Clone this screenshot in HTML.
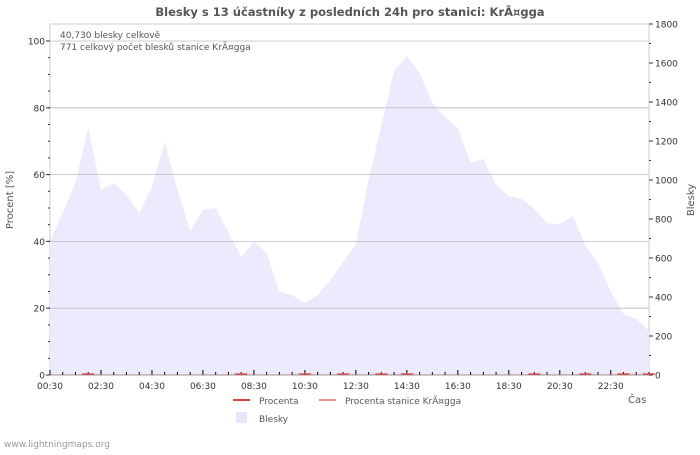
<!DOCTYPE html>
<html><head><meta charset="utf-8"><style>
body{margin:0;background:#fff;}
svg{font-family:"DejaVu Sans","Liberation Sans",sans-serif;}
</style></head><body>
<svg id="c" width="700" height="450" xmlns="http://www.w3.org/2000/svg">
<text x="350" y="16" text-anchor="middle" font-size="11.5" font-weight="bold" fill="#555">Blesky s 13 účastníky z posledních 24h pro stanici: KrÃ¤gga</text>
<g id="plot"></g>
<text x="60" y="38" font-size="9" fill="#555">40,730 blesky celkově</text>
<text x="60" y="50" font-size="9" fill="#555">771 celkový počet blesků stanice KrÃ¤gga</text>
<text transform="translate(13,200) rotate(-90)" text-anchor="middle" font-size="10" fill="#555">Procent   [%]</text>
<text transform="translate(694,200) rotate(-90)" text-anchor="middle" font-size="10" fill="#555">Blesky</text>
<text x="628" y="403" font-size="10" fill="#555">Čas</text>
<g>
<line x1="233" y1="400" x2="250" y2="400" stroke="#e04040" stroke-width="2"/>
<text x="259" y="404" font-size="9" fill="#555">Procenta</text>
<line x1="319" y1="400" x2="336" y2="400" stroke="#f09090" stroke-width="2"/>
<text x="345" y="404" font-size="9" fill="#555">Procenta stanice KrÃ¤gga</text>
<rect x="236" y="412" width="11" height="11" fill="#e6e6fc"/>
<text x="259" y="422" font-size="9" fill="#555">Blesky</text>
</g>
<text x="4" y="447" font-size="9" fill="#999">www.lightningmaps.org</text>
</svg>
<script>
const strikes=[682,831,985,1267,949,985,923,831,964,1195,949,738,846,856,733,605,682,626,426,410,369,410,487,579,672,1000,1282,1559,1636,1549,1395,1323,1267,1087,1108,974,918,903,851,779,774,815,667,574,426,313,287,226];
const percent=[0,0,0,0.3,0,0,0,0,0,0,0,0,0,0,0,0.3,0,0,0,0,0.3,0,0,0.3,0,0,0.3,0,0.3,0,0,0,0,0,0,0,0,0,0.3,0,0,0,0.3,0,0,0.3,0,0.3];
const leftTicks=[0,20,40,60,80,100];
const rightTicks=[0,200,400,600,800,1000,1200,1400,1600,1800];
const xLabels=["00:30","02:30","04:30","06:30","08:30","10:30","12:30","14:30","16:30","18:30","20:30","22:30"];
const X0=50,X1=649,Y0=375,YT=24;
const step=(X1-X0)/47;
const xs=i=>X0+i*step;
const yL=v=>Y0-v/100*(Y0-41);
const yR=v=>Y0-v/1800*(Y0-YT);
const g=document.getElementById('plot');
const NS='http://www.w3.org/2000/svg';
function mk(t,a){const e=document.createElementNS(NS,t);for(const k in a)e.setAttribute(k,a[k]);g.appendChild(e);return e;}
let r=mk('rect',{x:X0,y:YT,width:X1-X0,height:Y0-YT,fill:'#fff',stroke:'#ccc'});


let d='M'+X0+','+Y0;
strikes.forEach((v,i)=>{d+=' L'+xs(i).toFixed(1)+','+yR(v).toFixed(1);});
d+=' L'+X1+','+Y0+' Z';
let a=mk('path',{d:d,fill:'#ebebfd',stroke:'none'});


leftTicks.forEach(v=>{
 if(v>0){let l=mk('line',{x1:X0,x2:X1,y1:yL(v),y2:yL(v),stroke:'#bbb','stroke-width':0.8});
 
 }
 let t=mk('text',{x:X0-5,y:yL(v)+3.5,'text-anchor':'end','font-size':9,fill:'#333'});t.textContent=v;
 
 
 mk('line',{x1:X0-4,x2:X0,y1:yL(v),y2:yL(v),stroke:'#333'});
});
for(let v=0;v<=100;v+=5){mk('line',{x1:X0-2,x2:X0,y1:yL(v),y2:yL(v),stroke:'#333'});}
rightTicks.forEach(v=>{
 let t=mk('text',{x:X1+6,y:yR(v)+3.5,'font-size':9,fill:'#333'});t.textContent=v;
 
 
 mk('line',{x1:X1,x2:X1+4,y1:yR(v),y2:yR(v),stroke:'#333'});
 if(v<1800)mk('line',{x1:X1,x2:X1+2,y1:yR(v+100),y2:yR(v+100),stroke:'#333'});
});
mk('line',{x1:X0,x2:X1,y1:Y0,y2:Y0,stroke:'#999'});
for(let i=0;i<48;i++){const big=i%4===0;mk('line',{x1:xs(i),x2:xs(i),y1:Y0,y2:Y0-(big?5:3),stroke:'#000'});}
xLabels.forEach((s,i)=>{let t=mk('text',{x:xs(i*4),y:Y0+14,'text-anchor':'middle','font-size':9,fill:'#333'});t.textContent=s;
 
 });
percent.forEach((v,i)=>{if(v>0){let l=mk('line',{x1:xs(i)-6,x2:xs(i)+6,y1:yL(v),y2:yL(v),stroke:'#e04040','stroke-width':1.5});
 
 }});
let p='';percent.forEach((v,i)=>{p+=(i?' L':'M')+xs(i).toFixed(1)+','+(yL(v)-0.5).toFixed(1);});
let pl=mk('path',{d:p,fill:'none',stroke:'#f09090','stroke-width':0.6,opacity:0.5});


</script>
</body></html>
